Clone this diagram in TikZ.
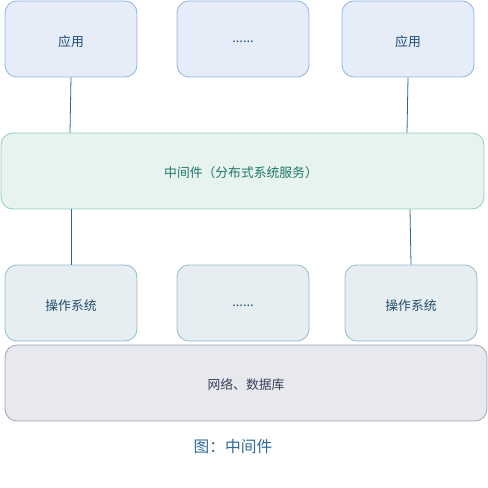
\documentclass[tikz,border=0pt]{standalone}
\usepackage{fontspec}
\newfontfamily\cjk{Noto Sans CJK SC}
\definecolor{appfill}{HTML}{E6EDF8}
\definecolor{appdraw}{HTML}{90B4DE}
\definecolor{apptext}{HTML}{1B4B78}
\definecolor{midfill}{HTML}{E6F3EE}
\definecolor{middraw}{HTML}{90D0B2}
\definecolor{midtext}{HTML}{1E7768}
\definecolor{osfill}{HTML}{E6EEF2}
\definecolor{osdraw}{HTML}{92BACB}
\definecolor{ostext}{HTML}{234E6C}
\definecolor{basefill}{HTML}{E8E9EE}
\definecolor{basedraw}{HTML}{9CA3B2}
\definecolor{basetext}{HTML}{3A3F58}
\definecolor{captext}{HTML}{2F6B9A}
\definecolor{linecol}{HTML}{2A6790}
\tikzset{
  boxbase/.style={rounded corners=9pt, line width=0.6pt},
  lbl/.style={font=\cjk\fontsize{9.6}{11}\selectfont},
  appbox/.style={boxbase, fill=appfill, draw=appdraw},
  midbox/.style={boxbase, fill=midfill, draw=middraw},
  osbox/.style={boxbase, fill=osfill, draw=osdraw},
  basebox/.style={boxbase, fill=basefill, draw=basedraw},
  conn/.style={draw=linecol, line width=0.6pt}
}
\begin{document}
\begin{tikzpicture}[x=0.75pt,y=-0.75pt]
\useasboundingbox (0,0) rectangle (488,488);
% top row
\draw[appbox] (5,1) rectangle (137,77);
\node[lbl, text=apptext] (a1) at (71,42) {应用};
\draw[appbox] (177,1) rectangle (309,77);
\node[lbl, text=apptext] (a2) at (243,42) {......};
\draw[appbox] (342,1) rectangle (474,77);
\node[lbl, text=apptext] (a3) at (408,42) {应用};
% middle
\draw[midbox] (1,133) rectangle (484,209);
\node[lbl, text=midtext] (m) at (241,173) {中间件（分布式系统服务）};
% os row
\draw[osbox] (5,265) rectangle (137,341);
\node[lbl, text=ostext] (o1) at (71,306) {操作系统};
\draw[osbox] (177,265) rectangle (309,341);
\node[lbl, text=ostext] (o2) at (243,306) {......};
\draw[osbox] (345,265) rectangle (477,341);
\node[lbl, text=ostext] (o3) at (411,306) {操作系统};
% base
\draw[basebox] (5,345) rectangle (487,421);
\node[lbl, text=basetext] (b) at (246,385) {网络、数据库};
% caption
\node[text=captext, font=\cjk\fontsize{11.8}{13}\selectfont] (cap) at (233,447) {图：中间件};
% connectors
\coordinate (t1a) at (71,77.3); \coordinate (t1b) at (70,132.7);
\coordinate (t3a) at (408,77.3); \coordinate (t3b) at (407,132.7);
\coordinate (u1a) at (71,209.3); \coordinate (u1b) at (71,264.7);
\coordinate (u3a) at (410,209.3); \coordinate (u3b) at (411,264.7);
\draw[conn] (t1a) -- (t1b);
\draw[conn] (t3a) -- (t3b);
\draw[conn] (u1a) -- (u1b);
\draw[conn] (u3a) -- (u3b);
\end{tikzpicture}
\end{document}
